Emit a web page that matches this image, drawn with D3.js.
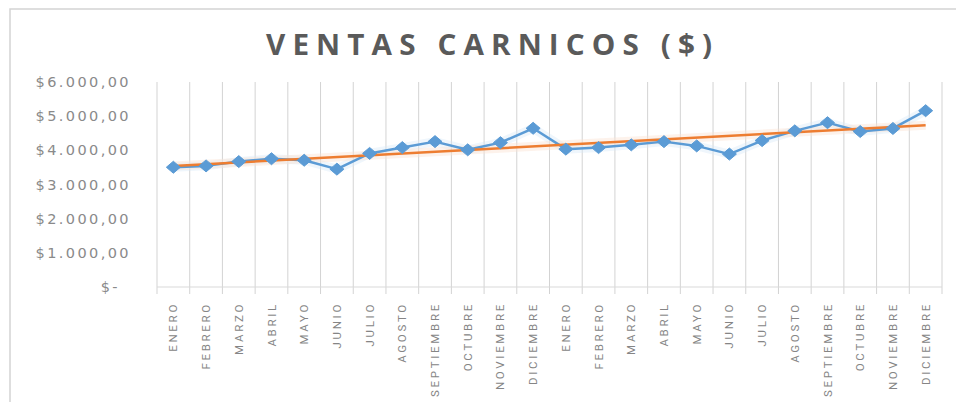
<!DOCTYPE html>
<html>
<head>
<meta charset="utf-8">
<script src="https://cdn.jsdelivr.net/npm/d3@7"></script>
<style>
  body { margin: 0; background: #fff; }
</style>
</head>
<body>
<div id="chart"></div>
<script>
(function () {
  // data: two years of monthly sales
  let months = ['ENERO', 'FEBRERO', 'MARZO', 'ABRIL', 'MAYO', 'JUNIO', 'JULIO', 'AGOSTO',
    'SEPTIEMBRE', 'OCTUBRE', 'NOVIEMBRE', 'DICIEMBRE'];
  let categories = months.concat(months);
  let ventas = [3505, 3545, 3670, 3755, 3710, 3450, 3910, 4080, 4255, 4015, 4225, 4645,
    4035, 4080, 4160, 4255, 4130, 3890, 4285, 4570, 4810, 4550, 4640, 5160];
  let yTicks = [0, 1000, 2000, 3000, 4000, 5000, 6000];

  let width = 956,
    height = 402;

  let svg = d3.select('#chart').append('svg')
    .attr('width', width)
    .attr('height', height);

  // chart frame
  svg.append('rect')
    .attr('x', 10)
    .attr('y', 9)
    .attr('width', 960)
    .attr('height', 410)
    .attr('fill', '#fff')
    .attr('stroke', '#d4d4d4')
    .attr('stroke-width', 1.5);

  let keys = categories.map((d, i) => i);

  let xScale = d3.scaleBand()
    .domain(keys)
    .range([157, 942]);

  let yScale = d3.scaleLinear()
    .domain([0, 6000])
    .range([287, 82]);

  // vertical gridlines at category boundaries, running past the axis as ticks
  let bounds = keys.map((k) => xScale(k)).concat([xScale.range()[1]]);
  svg.append('g').selectAll('line.grid')
    .data(bounds).enter()
    .append('line')
    .attr('class', 'grid')
    .attr('x1', (d) => d)
    .attr('x2', (d) => d)
    .attr('y1', yScale(6000))
    .attr('y2', yScale(0) + 7)
    .attr('stroke', '#d3d3d3')
    .attr('stroke-width', 1);

  svg.append('line')
    .attr('x1', xScale.range()[0])
    .attr('x2', xScale.range()[1])
    .attr('y1', yScale(0))
    .attr('y2', yScale(0))
    .attr('stroke', '#d9d9d9')
    .attr('stroke-width', 1);

  // y labels
  let fmt = (v) => v === 0 ? '$-' : '$' + d3.format(',.2f')(v).replace(/,/g, 'X').replace('.', ',').replace(/X/g, '.');
  svg.append('g').selectAll('text.ylabel')
    .data(yTicks).enter()
    .append('text')
    .attr('class', 'ylabel')
    .attr('x', (d) => d === 0 ? 120 : 131)
    .attr('y', (d) => yScale(d))
    .attr('dy', '0.35em')
    .attr('text-anchor', 'end')
    .attr('fill', '#8a8a8a')
    .style('font-family', 'DejaVu Sans')
    .style('font-size', '14.5px')
    .style('letter-spacing', '2.4px')
    .text(fmt);

  // x labels, rotated
  svg.append('g').selectAll('text.xlabel')
    .data(keys).enter()
    .append('text')
    .attr('class', 'xlabel')
    .attr('transform', (d) => 'translate(' + (xScale(d) + xScale.bandwidth() / 2) + ',302) rotate(-90)')
    .attr('dy', '0.35em')
    .attr('text-anchor', 'end')
    .attr('fill', '#858585')
    .style('font-family', 'Roboto')
    .style('font-size', '11.5px')
    .style('letter-spacing', '2.7px')
    .text((d) => categories[d]);

  let cx = (i) => xScale(i) + xScale.bandwidth() / 2;

  // linear trendline (least squares over the series)
  let n = ventas.length;
  let xs = ventas.map((d, i) => i + 1);
  let mx = d3.mean(xs), my = d3.mean(ventas);
  let slope = d3.sum(xs, (x, i) => (x - mx) * (ventas[i] - my)) / d3.sum(xs, (x) => (x - mx) * (x - mx));
  let intercept = my - slope * mx;
  let trend = [0, n - 1].map((i) => [cx(i), yScale(intercept + slope * (i + 1))]);

  let line = d3.line()
    .x((d, i) => cx(i))
    .y((d) => yScale(d));

  // soft glow under the lines
  svg.append('path')
    .datum(ventas)
    .attr('d', line)
    .attr('fill', 'none')
    .attr('stroke', '#d6e8f7')
    .attr('stroke-opacity', 0.4)
    .attr('stroke-width', 9);

  svg.append('path')
    .datum(trend)
    .attr('d', d3.line())
    .attr('fill', 'none')
    .attr('stroke', '#fbe3d2')
    .attr('stroke-opacity', 0.45)
    .attr('stroke-width', 9);

  svg.append('path')
    .datum(ventas)
    .attr('d', line)
    .attr('fill', 'none')
    .attr('stroke', '#5b9bd5')
    .attr('stroke-width', 2.5)
    .attr('stroke-linejoin', 'round');

  svg.append('path')
    .datum(trend)
    .attr('d', d3.line())
    .attr('fill', 'none')
    .attr('stroke', '#ed7d31')
    .attr('stroke-width', 2.5);

  // diamond markers
  svg.append('g').selectAll('path.marker')
    .data(ventas).enter()
    .append('path')
    .attr('class', 'marker')
    .attr('transform', (d, i) => 'translate(' + cx(i) + ',' + yScale(d) + ')')
    .attr('d', 'M0,-6L7,0L0,6L-7,0Z')
    .attr('fill', '#5b9bd5')
    .attr('stroke', '#5b9bd5')
    .attr('stroke-width', 1);

  // title, letters stretched a little wider
  let sx = 1.06;
  svg.append('text')
    .attr('transform', 'translate(489,55) scale(' + sx + ',1)')
    .attr('text-anchor', 'middle')
    .attr('fill', '#5a5a5a')
    .attr('textLength', 446 / sx)
    .attr('lengthAdjust', 'spacing')
    .style('font-family', 'Open Sans')
    .style('font-weight', 'bold')
    .style('font-size', '28px')
    .text('VENTAS  CARNICOS  ($)');
})();
</script>
</body>
</html>
